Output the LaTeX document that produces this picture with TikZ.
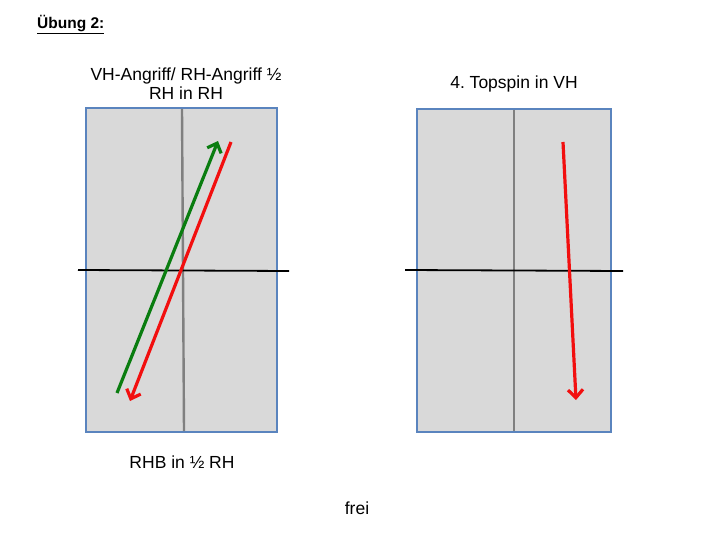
\documentclass[tikz,border=0pt]{standalone}
\usepackage{fontspec}
\setmainfont{Liberation Sans}
\usetikzlibrary{arrows.meta}
\frenchspacing

\definecolor{tablegray}{HTML}{D9D9D9}
\definecolor{tableblue}{HTML}{5A84BE}
\definecolor{balldarkgreen}{HTML}{0A7D10}
\definecolor{ballred}{HTML}{F20F0F}

\tikzset{
  table/.style={draw=tableblue, line width=1.6pt, fill=tablegray},
  midline/.style={draw=gray, line width=2.4pt},
  net/.style={draw=black, line width=1.8pt},
  ball/.style={line width=3.2pt, -{Straight Barb[length=8pt,width=15pt]}},
  label/.style={font=\fontsize{17.5}{19}\selectfont, align=center}
}

\begin{document}
\begin{tikzpicture}[x=1pt, y=-1pt]
    \useasboundingbox (0,0) rectangle (720,540);

    % heading
    \node[anchor=west, inner sep=0pt, font=\fontsize{15.5}{18}\selectfont\bfseries] (title) at (37,25) {\underline{Übung 2:}};

    % table left
    \path[table] (86,108) rectangle (277,432);
    \path[midline] (182,109) -- (184,431);
    \path[net] (78,270) -- (289,271);

    % table right
    \path[table] (417,109) rectangle (611,432);
    \path[midline] (514,110) -- (514,431);
    \path[net] (405,270) -- (623,271);

    % labels
    \node[label] (lefttop) at (186,84) {VH-Angriff/ RH-Angriff ½\\RH in RH};
    \node[label] (righttop) at (514,84) {4. Topspin in VH};
    \node[label] (leftbottom) at (182,462) {RHB in ½ RH};
    \node[label] (free) at (357,508) {frei};

    % ball paths
    \coordinate (g1) at (117,393);
    \coordinate (g2) at (218,141);
    \coordinate (r1) at (231,142);
    \coordinate (r2) at (130,401);
    \coordinate (s1) at (563,142);
    \coordinate (s2) at (576,400);

    \draw[ball, balldarkgreen] (g1) -- (g2);
    \draw[ball, ballred] (r1) -- (r2);
    \draw[ball, ballred] (s1) -- (s2);

\end{tikzpicture}
\end{document}
